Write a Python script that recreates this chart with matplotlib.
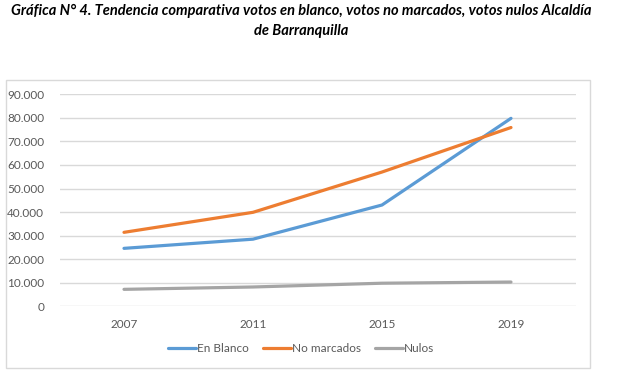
import matplotlib
matplotlib.use("Agg")
import matplotlib.pyplot as plt
from matplotlib.patches import Rectangle
from matplotlib.ticker import FuncFormatter

years = ["2007", "2011", "2015", "2019"]
en_blanco = [24600, 28500, 43000, 79800]
no_marcados = [31400, 39900, 57000, 75900]
nulos = [7200, 8200, 9800, 10300]
y_ticks = [0, 10000, 20000, 30000, 40000, 50000, 60000, 70000, 80000, 90000]

plt.rcParams["font.family"] = ["Lato", "DejaVu Sans"]

W, H = 618, 375
fig = plt.figure(figsize=(W / 100, H / 100), dpi=100)

# chart frame like Excel's
fig.patches.append(Rectangle((6 / W, 1 - 368 / H), 584 / W, 288 / H,
                             transform=fig.transFigure, fill=False,
                             edgecolor="#d9d9d9", linewidth=1))

fig.text(0.487, 1 - 4 / H,
         "Gráfica N° 4. Tendencia comparativa votos en blanco, votos no marcados, votos nulos Alcaldía\nde Barranquilla",
         ha="center", va="top", fontsize=10.5, fontweight="bold", fontstyle="italic",
         linespacing=1.5)

ax = fig.add_axes([59.5 / W, 1 - 306.3 / H, 516 / W, 212 / H])
x = range(len(years))
ax.plot(x, en_blanco, color="#5b9bd5", lw=2.3, label="En Blanco", solid_capstyle="round")
ax.plot(x, no_marcados, color="#ed7d31", lw=2.3, label="No marcados", solid_capstyle="round")
ax.plot(x, nulos, color="#a5a5a5", lw=2.3, label="Nulos", solid_capstyle="round")

ax.set_xlim(-0.5, len(years) - 0.5)
ax.set_ylim(0, 90000)
ax.set_yticks(y_ticks)
ax.yaxis.set_major_formatter(FuncFormatter(lambda v, p: f"{v:,.0f}".replace(",", ".")))
ax.set_xticks(list(x))
ax.set_xticklabels(years)
ax.grid(axis="y", color="#d9d9d9", lw=1)
ax.set_axisbelow(True)
for s in ax.spines.values():
    s.set_visible(False)
ax.tick_params(length=0, colors="#595959", labelsize=8.5)
ax.tick_params(axis="y", pad=11)
ax.tick_params(axis="x", pad=9)

ax.legend(loc="center", bbox_to_anchor=(0.468, -0.2), ncol=3, frameon=False,
          fontsize=8.5, handlelength=2.35, handletextpad=0.1, columnspacing=1.2,
          labelcolor="#595959")

fig.savefig("out.png", dpi=100)
